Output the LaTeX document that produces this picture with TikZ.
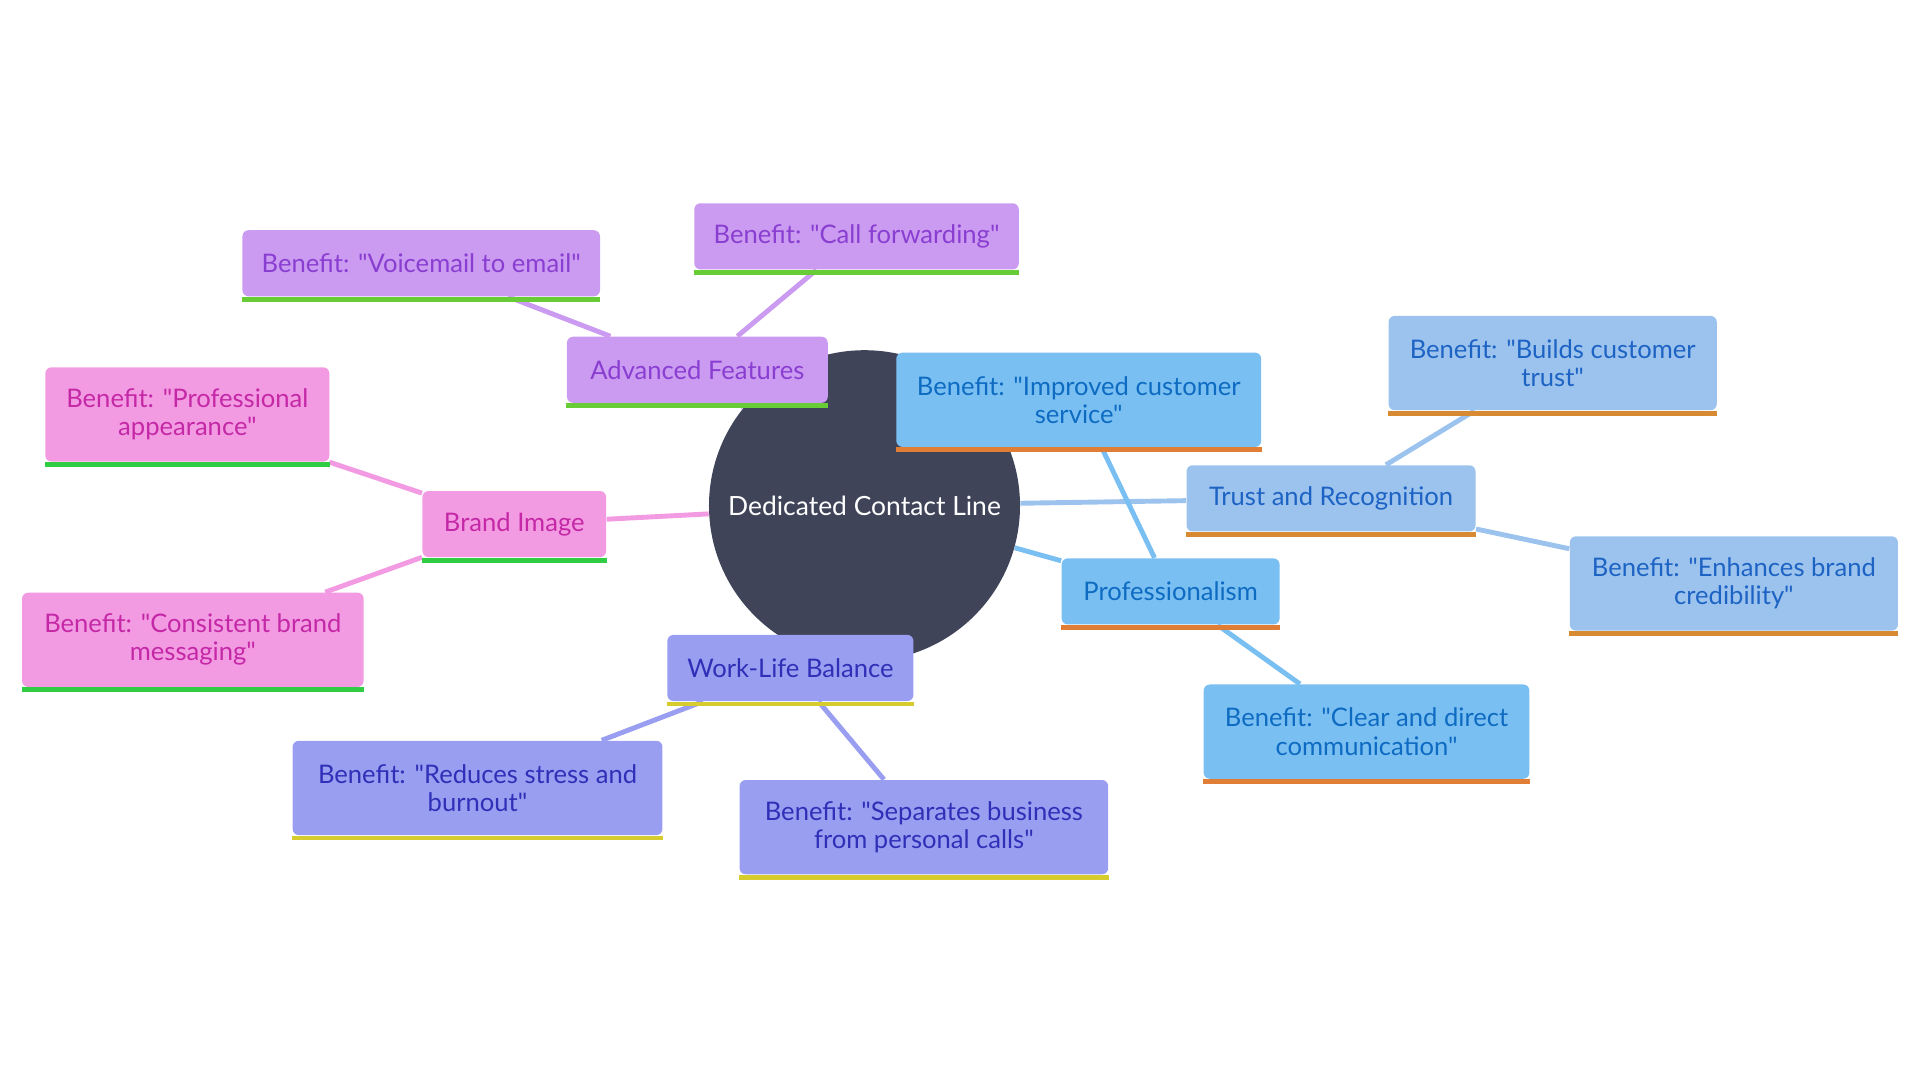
\documentclass[tikz,border=0pt]{standalone}
\usepackage{fontspec}
\setmainfont{Lato}[Ligatures=TeXOff]
\usetikzlibrary{backgrounds}

\definecolor{coreFill}{HTML}{3F4459}
\definecolor{advFill}{HTML}{CA9BF0}
\definecolor{advText}{HTML}{8A3ED1}
\definecolor{advBar}{HTML}{68CC36}
\definecolor{brandFill}{HTML}{F39BE2}
\definecolor{brandText}{HTML}{C428A6}
\definecolor{brandBar}{HTML}{30CC44}
\definecolor{wlbFill}{HTML}{9A9EF0}
\definecolor{wlbText}{HTML}{2F2FB8}
\definecolor{wlbBar}{HTML}{D6CC2E}
\definecolor{profFill}{HTML}{7ABFF2}
\definecolor{profText}{HTML}{0E6BC2}
\definecolor{profBar}{HTML}{E07E35}
\definecolor{trustFill}{HTML}{9CC3EE}
\definecolor{trustText}{HTML}{1D63C4}
\definecolor{trustBar}{HTML}{D88A32}

\begin{document}
\begin{tikzpicture}[x=0.5pt,y=-0.5pt,
    core/.style={circle,fill=coreFill,text=white,minimum size=127pt,inner sep=0pt,font=\fontsize{10.8}{13}\selectfont},
    topic/.style={rectangle,rounded corners=2.5pt,inner xsep=6pt,inner ysep=2pt,minimum height=27pt,align=center,font=\fontsize{10.45}{11.5}\selectfont},
    two lines/.style={minimum height=38.5pt},
    bar/.style={append after command={\pgfextra{\fill[#1,sharp corners] (\tikzlastnode.south west) rectangle ([yshift=-2pt]\tikzlastnode.south east);}}},
    adv/.style={topic,fill=advFill,text=advText,bar=advBar},
    brand/.style={topic,fill=brandFill,text=brandText,bar=brandBar},
    wlb/.style={topic,fill=wlbFill,text=wlbText,bar=wlbBar},
    prof/.style={topic,fill=profFill,text=profText,bar=profBar},
    trust/.style={topic,fill=trustFill,text=trustText,bar=trustBar},
    link/.style={line width=2pt,draw=#1}]
    \useasboundingbox (0,0) rectangle (1568,882);

    \node[core] (line) at (706,413) {Dedicated Contact Line};

    % advanced features
    \node[adv,minimum width=106.5pt] (features) at (569.5,302) {Advanced Features};
    \node[adv,minimum width=132.5pt] (forward) at (699.5,193) {Benefit: "Call forwarding"};
    \node[adv,minimum width=146pt] (voicemail) at (344,215) {Benefit: "Voicemail to email"};

    % brand image
    \node[brand,minimum width=75pt] (brand) at (420,428) {Brand Image};
    \node[brand,two lines,minimum width=116pt] (appearance) at (153,338.5) {Benefit: "Professional\\appearance"};
    \node[brand,two lines,minimum width=139.5pt] (messaging) at (157.5,522.5) {Benefit: "Consistent brand\\messaging"};

    % work-life balance
    \node[wlb,minimum width=100.5pt] (balance) at (645.5,545.5) {Work-Life Balance};
    \node[wlb,two lines,minimum width=151pt] (stress) at (390,643.5) {Benefit: "Reduces stress and\\burnout"};
    \node[wlb,two lines,minimum width=150.5pt] (separate) at (754.5,675.5) {Benefit: "Separates business\\from personal calls"};

    % professionalism
    \node[prof,two lines,minimum width=149pt] (service) at (881,326.5) {Benefit: "Improved customer\\service"};
    \node[prof,minimum width=89pt] (prof) at (956,483) {Professionalism};
    \node[prof,two lines,minimum width=133pt] (direct) at (1116,597.5) {Benefit: "Clear and direct\\communication"};

    % trust and recognition
    \node[trust,minimum width=118pt] (trust) at (1087,407) {Trust and Recognition};
    \node[trust,two lines,minimum width=134pt] (builds) at (1268,296.5) {Benefit: "Builds customer\\trust"};
    \node[trust,two lines,minimum width=134pt] (credible) at (1416,476.5) {Benefit: "Enhances brand\\credibility"};

    \begin{scope}[on background layer]
    \path (line) edge[link=advFill] (features)
          edge[link=brandFill] (brand)
          edge[link=wlbFill] (balance)
          edge[link=profFill] (prof)
          edge[link=trustFill] (trust)
    (features) edge[link=advFill] (forward)
               edge[link=advFill] (voicemail)
    (brand) edge[link=brandFill] (appearance)
            edge[link=brandFill] (messaging)
    (balance) edge[link=wlbFill] (stress)
              edge[link=wlbFill] (separate)
    (prof) edge[link=profFill] (service)
           edge[link=profFill] (direct)
    (trust) edge[link=trustFill] (builds)
            edge[link=trustFill] (credible);
    \end{scope}
\end{tikzpicture}
\end{document}
